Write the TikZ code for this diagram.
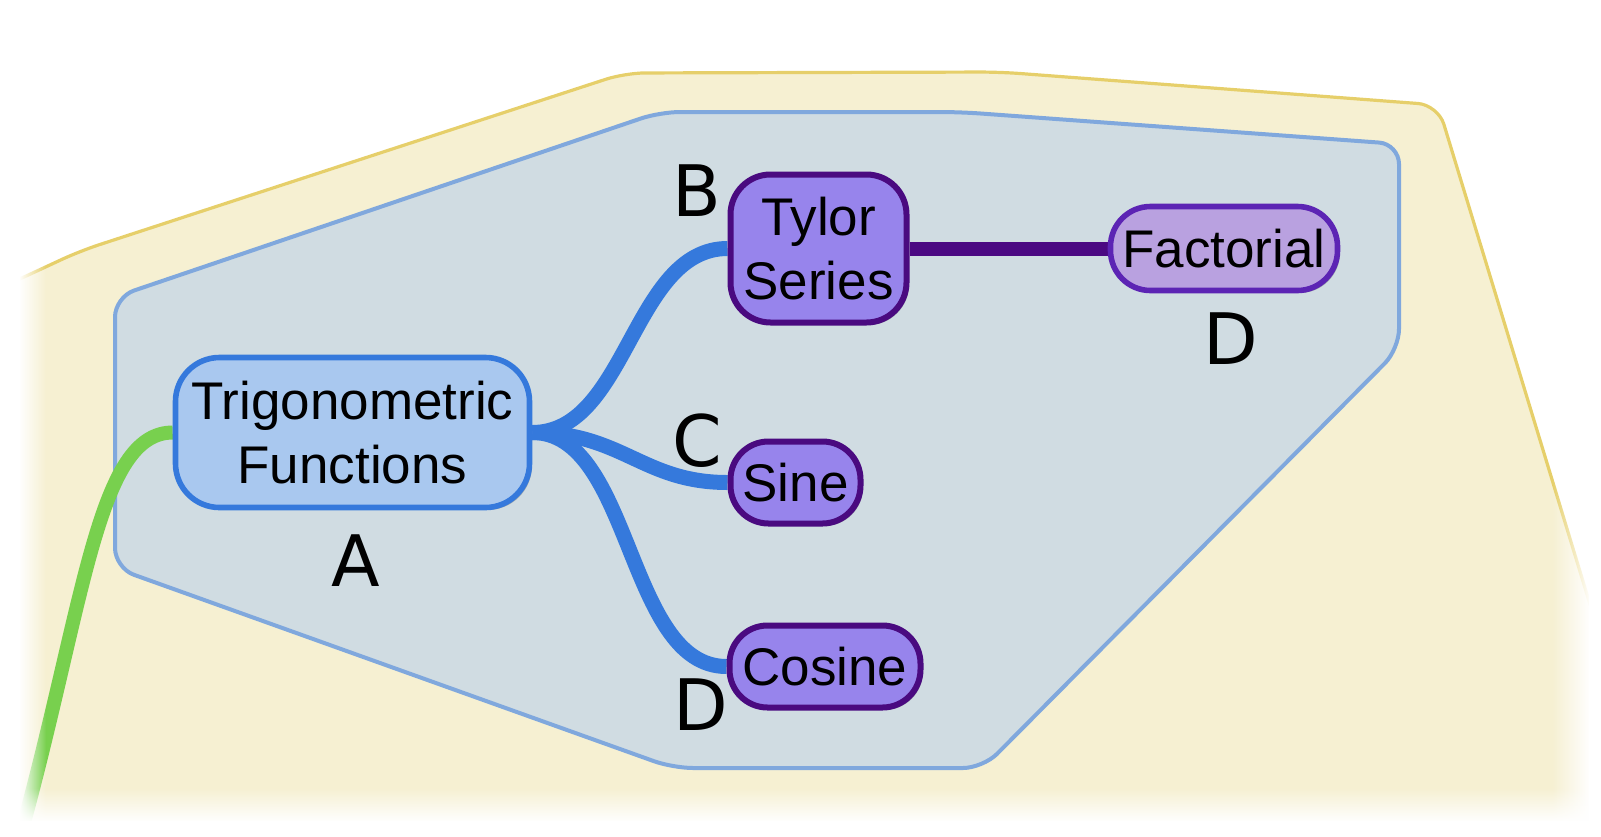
\documentclass[tikz,border=0pt]{standalone}
\usepackage{fontspec}
\setmainfont{Liberation Sans}
\newfontfamily\lblfamily{DejaVu Sans}
\usetikzlibrary{shadows,fadings}

\definecolor{yfill}{HTML}{F6F0D2}
\definecolor{yline}{HTML}{E6CF6A}
\definecolor{bfill}{HTML}{D0DCE2}
\definecolor{bline}{HTML}{80A8DD}
\definecolor{trigfill}{HTML}{A9C8EF}
\definecolor{trigline}{HTML}{3579DC}
\definecolor{pfill}{HTML}{9784EC}
\definecolor{pline}{HTML}{4A0A80}
\definecolor{ffill}{HTML}{B9A1E0}
\definecolor{fline}{HTML}{5C24B4}
\definecolor{gline}{HTML}{78D04E}
\definecolor{cline}{HTML}{3579DC}
\definecolor{tfline}{HTML}{4B0882}

\tikzfading[name=fadeopleft, left color=transparent!0, right color=transparent!100]
\tikzfading[name=fadeopright, left color=transparent!100, right color=transparent!0]
\tikzfading[name=fadeopbottom, top color=transparent!100, bottom color=transparent!0]

\pgfdeclarelayer{regions}
\pgfdeclarelayer{edges}
\pgfdeclarelayer{fades}
\pgfsetlayers{regions,edges,main,fades}

\newcommand\mmfont{\fontsize{26.5}{31.7}\selectfont}
\newcommand\lblfont{\lblfamily\fontsize{35.5}{40}\selectfont}

\tikzset{
  mmnode/.style={draw, line width=3pt, align=center, font=\mmfont, inner sep=0pt,
    drop shadow={shadow xshift=1.2pt, shadow yshift=-1.2pt, opacity=0.25, fill=black}},
  trignode/.style={mmnode, fill=trigfill, draw=trigline, line width=2.8pt, rounded corners=22pt},
  subnode/.style={mmnode, fill=pfill, draw=pline, rounded corners=19pt},
  factnode/.style={mmnode, fill=ffill, draw=fline, line width=2.8pt, rounded corners=20pt},
  conn/.style={line width=7.5pt, draw=cline},
  lbl/.style={font=\lblfont, inner sep=0pt, text=black},
}

\begin{document}
\begin{tikzpicture}[x=0.5pt, y=-0.5pt]
\useasboundingbox (0,0) rectangle (1601,836);

\begin{pgfonlayer}{regions}
% outer yellow region
\filldraw[fill=yfill, draw=yline, line width=1.6pt, rounded corners=10pt]
  (-60,316) -- (80,251) -- (625,73) -- (1000,72) -- (1438,105) -- (1680,900) -- (-60,900) -- cycle;
% inner blue region
\filldraw[fill=bfill, draw=bline, line width=2pt, rounded corners=10pt]
  (115,297) -- (660,112) -- (960,112) -- (1399,144) -- (1399,349) -- (983,768) -- (673,768) -- (115,568) -- cycle;
\end{pgfonlayer}

% nodes
\node[trignode, minimum width=177pt, minimum height=75pt] (A) at (352.5,432.5) {Trigonometric\\Functions};
\node[subnode, minimum width=88pt, minimum height=74pt, rounded corners=20pt] (T) at (818.5,248.5) {Tylor\\Series};
\node[factnode, minimum width=113.5pt, minimum height=42pt] (F) at (1224,248.5) {Factorial};
\node[subnode, minimum width=65pt, minimum height=41pt] (S) at (795.5,482.5) {Sine};
\node[subnode, minimum width=95.5pt, minimum height=41pt] (Co) at (825,666.5) {Cosine};

\coordinate (gend) at (22,830);

% labels
\node[lbl] (la) at (356,561) {A};
\node[lbl] (lb) at (697,191) {B};
\node[lbl] (lc) at (697,441) {C};
\node[lbl] (ld1) at (1231,338.5) {D};
\node[lbl] (ld2) at (701,705) {D};

\begin{pgfonlayer}{edges}
\draw[line width=7pt, draw=gline] (A.west) .. controls +(-75,0) and (85,600) .. (gend);
\draw[conn] (A.east) .. controls +(95,0) and +(-95,0) .. (T.west);
\draw[conn] (A.east) .. controls +(90,0) and +(-85,0) .. (S.west);
\draw[conn] (A.east) .. controls +(100,0) and +(-100,0) .. (Co.west);
\draw[line width=7pt, draw=tfline] (T.east) -- (F.west);
\end{pgfonlayer}

\begin{pgfonlayer}{fades}
\fill[white] (-5,-5) rectangle (20,845);
\fill[white, path fading=fadeopleft] (19,-5) rectangle (46,845);
\fill[white, path fading=fadeopright] (1552,-5) rectangle (1590,845);
\fill[white] (1589,-5) rectangle (1606,845);
\fill[white, path fading=fadeopbottom] (-5,788) rectangle (1606,822);
\fill[white] (-5,821) rectangle (1606,841);
\end{pgfonlayer}
\end{tikzpicture}
\end{document}
